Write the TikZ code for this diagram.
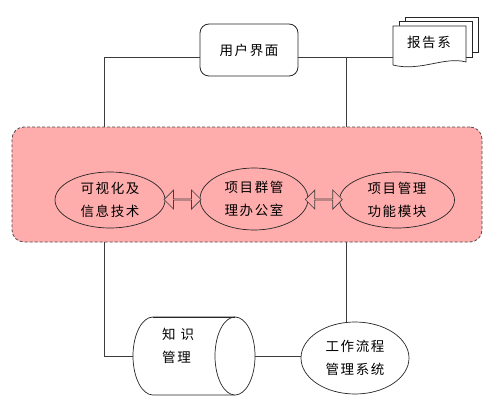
\documentclass[tikz,border=0pt]{standalone}
\usepackage{fontspec}
\setmainfont{Noto Sans CJK SC}
\usetikzlibrary{shapes.geometric,shapes.arrows,calc}
\definecolor{corepink}{RGB}{255,172,172}
\definecolor{linegray}{RGB}{60,60,60}
\tikzset{
  txt/.style={font=\fontsize{13.5}{23}\selectfont\addfontfeature{LetterSpace=12}, align=center, inner sep=0pt},
  conn/.style={draw=linegray, line width=0.8pt},
  oval/.style={draw=black!85, line width=0.7pt, ellipse, inner sep=0pt},
  dbl/.style={double arrow, draw=black!75, fill=corepink, line width=0.7pt,
    double arrow head extend=5pt, double arrow tip angle=90, minimum height=37pt, minimum width=19pt, inner sep=0pt},
}
\begin{document}
\begin{tikzpicture}[x=1pt,y=1pt]
\useasboundingbox (0,0) rectangle (497,-404);
\fill[white] (0,0) rectangle (497,-404);

% core pink box
\node[draw=black!70, dash pattern=on 3pt off 2pt, line width=0.8pt, fill=corepink,
  rounded corners=12pt, minimum width=470pt, minimum height=115pt, inner sep=0pt]
  (core) at (247,-184.5) {};

% user interface
\node[draw=black!85, line width=0.8pt, rounded corners=9pt, minimum width=98pt,
  minimum height=52pt, txt] (ui) at (249,-50) {用户界面};

% document stack
\draw[black!85, line width=0.7pt, fill=white] (405,-52) -- (405,-17) -- (478,-17) -- (478,-52) -- cycle;
\draw[black!85, line width=0.7pt, fill=white] (399,-57) -- (399,-21) -- (472,-21) -- (472,-57) -- cycle;
\draw[black!85, line width=0.7pt, fill=white] (393,-65) -- (393,-26) -- (466,-26) -- (466,-62)
  .. controls (445,-56) and (420,-72) .. (393,-65);
\node[txt] (doc) at (429,-42) {报告系};

% ellipses
\node[oval, minimum width=110pt, minimum height=56pt, txt] (vis) at (110,-200) {可视化及\\信息技术};
\node[oval, minimum width=108pt, minimum height=62pt, txt] (pmo) at (254,-199) {项目群管\\理办公室};
\node[oval, minimum width=115pt, minimum height=56pt, txt] (pmf) at (397,-200) {项目管理\\功能模块};

\node[dbl] (a1) at ($(vis.east)!0.5!(pmo.west)$) {};
\node[dbl] (a2) at ($(pmo.east)!0.5!(pmf.west)$) {};

% cylinder (knowledge management)
\node[minimum width=122pt, minimum height=78pt, inner sep=0pt] (kn) at (194,-356) {};
\draw[black!85, line width=0.7pt, fill=white]
  (235,-317) -- (153,-317) arc[start angle=90, end angle=270, x radius=20pt, y radius=39pt]
  -- (235,-395);
\draw[black!85, line width=0.7pt, fill=white] (235,-356) ellipse [x radius=20pt, y radius=39pt];
\draw[black!85, line width=0.7pt] (235,-317) -- (153,-317);
\node[txt, align=left, anchor=west] (kntxt) at (162,-346) {知\hspace{5pt}识\\管理};

% workflow ellipse
\node[oval, fill=white, minimum width=108pt, minimum height=72pt, txt] (wf) at (355,-358) {工作流程\\管理系统};

% connectors
\coordinate (L1) at (104,-57);
\coordinate (R1) at (346,-57);
\draw[conn] (ui.west |- L1) -- (L1) -- (L1 |- core.north);
\draw[conn] (ui.east |- L1) -- (393,-57);
\draw[conn] (R1) -- (R1 |- core.north);
\draw[conn] (core.south -| L1) -- (L1 |- kn.west) -- (kn.west);
\draw[conn] (kn.east) -- (kn.east -| wf.west);
\draw[conn] (core.south -| R1) -- (R1 |- wf.north);
\end{tikzpicture}
\end{document}
